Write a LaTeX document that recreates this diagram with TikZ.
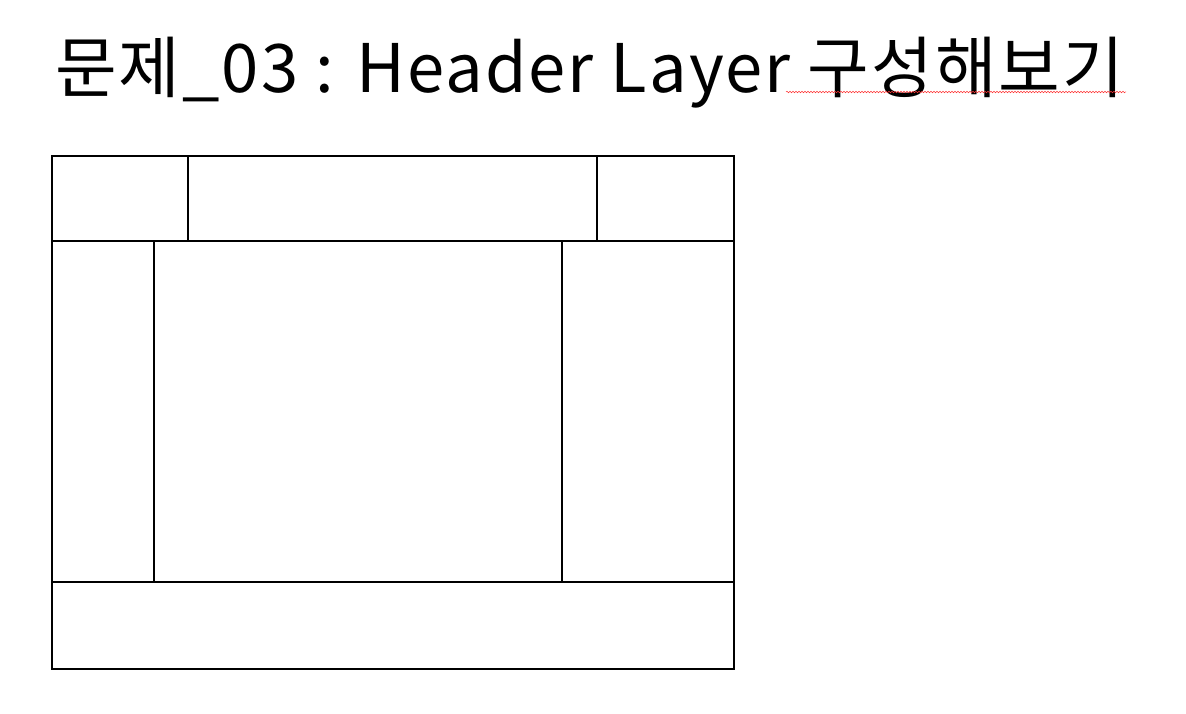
\documentclass[tikz,border=0pt]{standalone}
\usepackage{fontspec}
\setmainfont{Noto Sans CJK KR}
\newfontfamily\titlefont[LetterSpace=3]{Noto Sans CJK KR}
\usetikzlibrary{decorations.pathmorphing}

\begin{document}
\begin{tikzpicture}[x=1pt,y=-1pt,
	cell/.style={shape=rectangle,draw=black,line width=1.7pt,anchor=north west,inner sep=0pt}]
	\useasboundingbox (0,0) rectangle (1186,714);
	
	\node[anchor=base west,font=\titlefont\fontsize{67}{72}\selectfont,inner sep=0pt] (title) at (55,93) {문제\_03 : Header Layer 구성해보기};
	\coordinate (wavyA) at (786,92);
	\coordinate (wavyB) at (1126,92);
	\draw[red!80,line width=0.5pt,decorate,decoration={snake,amplitude=0.8pt,segment length=3pt}] (wavyA) -- (wavyB);
	
	\node[cell,minimum width=136,minimum height=85] (hleft) at (51,155) {};
	\node[cell,minimum width=409,minimum height=85] (hmid) at (187,155) {};
	\node[cell,minimum width=137,minimum height=85] (hright) at (596,155) {};
	
	\node[cell,minimum width=102,minimum height=341] (bleft) at (51,240) {};
	\node[cell,minimum width=408,minimum height=341] (bmid) at (153,240) {};
	\node[cell,minimum width=172,minimum height=341] (bright) at (561,240) {};
	
	\node[cell,minimum width=682,minimum height=87] (foot) at (51,581) {};
	
\end{tikzpicture}
\end{document}
